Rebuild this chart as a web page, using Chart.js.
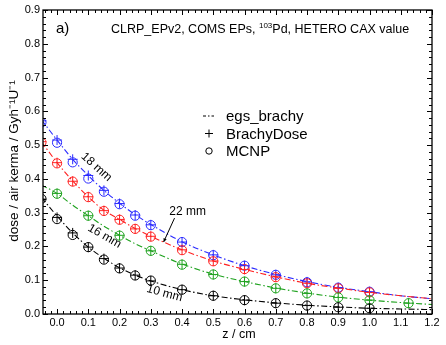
<!DOCTYPE html>
<html><head><meta charset="utf-8">
<script src="https://cdn.jsdelivr.net/npm/chart.js@4/dist/chart.umd.min.js"></script>
<style>html,body{margin:0;padding:0;background:#fff}#wrap{width:446px;height:345px}</style>
</head><body><div id="wrap"><canvas id="c" width="446" height="345"></canvas></div>
<script>
// ---- data ----
const zLine = [-0.05,0,0.05,0.1,0.15,0.2,0.25,0.3,0.4,0.5,0.6,0.7,0.8,0.9,1.0,1.1,1.2];
const egs18 = [0.575,0.515,0.458,0.410,0.366,0.328,0.294,0.265,0.214,0.175,0.143,0.117,0.096,0.079,0.066,0.054,0.045];
const egs22 = [0.510,0.448,0.394,0.347,0.307,0.280,0.253,0.230,0.190,0.157,0.132,0.110,0.091,0.077,0.064,0.054,0.045];
const egs16 = [0.382,0.357,0.322,0.291,0.260,0.233,0.208,0.187,0.148,0.118,0.096,0.077,0.062,0.050,0.041,0.034,0.028];
const egs10 = [0.345,0.290,0.240,0.198,0.165,0.137,0.115,0.098,0.072,0.054,0.042,0.033,0.026,0.021,0.017,0.015,0.013];

const zPts = [-0.05,0,0.05,0.1,0.15,0.2,0.25,0.3,0.4,0.5,0.6,0.7,0.8,0.9,1.0];
const bd18 = [0.572,0.515,0.458,0.410,0.366,0.327,0.293,0.264,0.213,0.175,0.143,0.116,0.095,0.078,0.066];
const mc18 = [0.567,0.507,0.449,0.401,0.362,0.325,0.291,0.263,0.213,0.174,0.143,0.116,0.094,0.078,0.066];
const bd22 = [0.510,0.448,0.393,0.347,0.306,0.280,0.252,0.230,0.190,0.157,0.132,0.110,0.091,0.076,0.064];
const mc22 = [0.508,0.446,0.392,0.346,0.305,0.279,0.252,0.229,0.189,0.156,0.133,0.109,0.091,0.076,0.064];
const bd10 = [0.340,0.286,0.240,0.198,0.164,0.136,0.115,0.098,0.072,0.054,0.041,0.032,0.025,0.020,0.017];
const mc10 = [0.341,0.281,0.234,0.198,0.161,0.135,0.114,0.099,0.072,0.054,0.041,0.032,0.025,0.020,0.017];
const zPts16 = [0,0.1,0.2,0.3,0.4,0.5,0.6,0.7,0.8,0.9,1.0,1.125];
const bd16 = [0.357,0.291,0.233,0.187,0.147,0.117,0.096,0.076,0.061,0.049,0.041,0.032];
const mc16 = [0.356,0.291,0.232,0.187,0.146,0.117,0.096,0.076,0.061,0.049,0.041,0.032];

const xTickVals = [0,0.1,0.2,0.3,0.4,0.5,0.6,0.7,0.8,0.9,1.0,1.1,1.2];
const yTickVals = [0,0.1,0.2,0.3,0.4,0.5,0.6,0.7,0.8,0.9];
const legendLabels = ['egs_brachy','BrachyDose','MCNP'];
const curveLabels = [
  {text:'18 mm', z:0.126, v:0.435, rot:42},
  {text:'16 mm', z:0.152, v:0.230, rot:30},
  {text:'10 mm', z:0.344, v:0.061, rot:15},
  {text:'22 mm', z:0.418, v:0.304, rot:0}
];
const arrow22 = {z0:0.376, v0:0.284, z1:0.341, v1:0.213};

const COL = {b:'#2b2bff', r:'#ff2020', g:'#1fa21f', k:'#000000'};
const FONT = '"Liberation Sans", Arial, sans-serif';
const DASH = [6,2.5,1.5,2.5];

function pts(xs, ys){ return xs.map((x,i)=>({x:x, y:ys[i]})); }
function lineDS(xs, ys, c){ return {data:pts(xs,ys), borderColor:c, borderWidth:1.1, borderDash:DASH, pointRadius:0, fill:false, cubicInterpolationMode:'monotone', showLine:true}; }
function crossDS(xs, ys, c){ return {data:pts(xs,ys), borderColor:c, borderWidth:1, pointStyle:'cross', pointRadius:5, showLine:false}; }
function circDS(xs, ys, c){ return {data:pts(xs,ys), borderColor:c, backgroundColor:'rgba(0,0,0,0)', borderWidth:1, pointStyle:'circle', pointRadius:4.6, showLine:false}; }

const datasets = [
  lineDS(zLine, egs10, COL.k), lineDS(zLine, egs16, COL.g), lineDS(zLine, egs22, COL.r), lineDS(zLine, egs18, COL.b),
  crossDS(zPts, bd10, COL.k), crossDS(zPts16, bd16, COL.g), crossDS(zPts, bd22, COL.r), crossDS(zPts, bd18, COL.b),
  circDS(zPts, mc10, COL.k), circDS(zPts16, mc16, COL.g), circDS(zPts, mc22, COL.r), circDS(zPts, mc18, COL.b)
];

const deco = {
  id:'deco',
  afterDatasetsDraw(chart){
    const ctx = chart.ctx, a = chart.chartArea, xs = chart.scales.x, ys = chart.scales.y;
    ctx.save();
    // frame
    ctx.strokeStyle = '#000'; ctx.lineWidth = 1.3;
    ctx.strokeRect(a.left, a.top, a.right-a.left, a.bottom-a.top);
    // inward ticks
    ctx.lineWidth = 1;
    ctx.beginPath();
    for (let i=-2;i<=60;i++){
      const v = i*0.02; if (v < xs.min-1e-9 || v > xs.max+1e-9) continue;
      const px = Math.round(xs.getPixelForValue(v))+0.5;
      const L = (i%5===0)?5:3;
      ctx.moveTo(px,a.bottom); ctx.lineTo(px,a.bottom-L);
      ctx.moveTo(px,a.top); ctx.lineTo(px,a.top+L);
    }
    for (let i=0;i<=45;i++){
      const v = i*0.02; if (v > ys.max+1e-9) continue;
      const py = Math.round(ys.getPixelForValue(v))+0.5;
      const L = (i%5===0)?5:3;
      ctx.moveTo(a.left,py); ctx.lineTo(a.left+L,py);
      ctx.moveTo(a.right,py); ctx.lineTo(a.right-L,py);
    }
    ctx.stroke();
    // curve labels
    ctx.fillStyle='#000'; ctx.font = '12px '+FONT; ctx.textAlign='center'; ctx.textBaseline='middle';
    curveLabels.forEach(l=>{
      ctx.save();
      ctx.translate(xs.getPixelForValue(l.z), ys.getPixelForValue(l.v));
      ctx.rotate(l.rot*Math.PI/180);
      ctx.fillText(l.text,0,0);
      ctx.restore();
    });
    // arrow
    const x0=xs.getPixelForValue(arrow22.z0), y0=ys.getPixelForValue(arrow22.v0);
    const x1=xs.getPixelForValue(arrow22.z1), y1=ys.getPixelForValue(arrow22.v1);
    ctx.beginPath(); ctx.moveTo(x0,y0); ctx.lineTo(x1,y1); ctx.stroke();
    const ang=Math.atan2(y1-y0,x1-x0), h=4;
    ctx.beginPath(); ctx.moveTo(x1,y1);
    ctx.lineTo(x1-h*Math.cos(ang-0.45), y1-h*Math.sin(ang-0.45));
    ctx.lineTo(x1-h*Math.cos(ang+0.45), y1-h*Math.sin(ang+0.45));
    ctx.closePath(); ctx.fill();
    // panel label and title
    ctx.textAlign='left'; ctx.textBaseline='alphabetic';
    ctx.font = '15px '+FONT; ctx.fillText('a)', 56, 33);
    ctx.font = '12.5px '+FONT;
    let tx = 111, ty = 33;
    const p1 = 'CLRP_EPv2, COMS EPs, ';
    ctx.fillText(p1, tx, ty); tx += ctx.measureText(p1).width;
    ctx.font = '8px '+FONT; ctx.fillText('103', tx, ty-5.5); tx += ctx.measureText('103').width;
    ctx.font = '12.5px '+FONT; ctx.fillText('Pd, HETERO CAX value', tx, ty);
    // legend
    const lx = 203, lx2 = 214, txl = 226;
    const ly = [116,133.5,151];
    ctx.strokeStyle='#000'; ctx.lineWidth=1;
    ctx.setLineDash([3,2,1.5,2]); ctx.beginPath(); ctx.moveTo(lx,ly[0]); ctx.lineTo(lx2,ly[0]); ctx.stroke(); ctx.setLineDash([]);
    const cx=209;
    ctx.beginPath(); ctx.moveTo(cx-4,ly[1]); ctx.lineTo(cx+4,ly[1]); ctx.moveTo(cx,ly[1]-4); ctx.lineTo(cx,ly[1]+4); ctx.stroke();
    ctx.beginPath(); ctx.arc(cx,ly[2],3.2,0,2*Math.PI); ctx.stroke();
    ctx.font='15px '+FONT; ctx.textBaseline='middle';
    legendLabels.forEach((t,i)=>ctx.fillText(t, txl, ly[i]+1));
    // axis titles
    ctx.font='12.5px '+FONT; ctx.textAlign='center'; ctx.textBaseline='alphabetic';
    ctx.fillText('z / cm', 239, 338);
    ctx.font='13.5px '+FONT;
    ctx.save(); ctx.translate(18, 161); ctx.rotate(-Math.PI/2);
    ctx.fillText('dose / air kerma / Gyh\u207B\u00B9U\u207B\u00B9', 0, 0);
    ctx.restore();
    ctx.restore();
  }
};

new Chart(document.getElementById('c'), {
  type:'scatter',
  data:{datasets:datasets},
  options:{
    responsive:false, animation:false, devicePixelRatio:1,
    layout:{padding:{left:0, right:14, top:10, bottom:0}},
    plugins:{legend:{display:false}, tooltip:{enabled:false}},
    elements:{line:{borderCapStyle:'butt'}},
    scales:{
      x:{type:'linear', min:-0.045, max:1.2,
        afterBuildTicks(s){ s.ticks = xTickVals.map(v=>({value:v})); },
        afterFit(s){ s.height = 31; },
        grid:{display:false, drawTicks:false}, border:{display:false},
        ticks:{padding:2, color:'#000', font:{family:FONT, size:11}, maxRotation:0, autoSkip:false, callback:(v)=>Number(v).toFixed(1)}},
      y:{type:'linear', min:0, max:0.9,
        afterBuildTicks(s){ s.ticks = yTickVals.map(v=>({value:v})); },
        afterFit(s){ s.width = 43; },
        grid:{display:false, drawTicks:false}, border:{display:false},
        ticks:{padding:3, color:'#000', font:{family:FONT, size:11}, autoSkip:false, callback:(v)=>Number(v).toFixed(1)}}
    }
  },
  plugins:[deco]
});
</script></body></html>
